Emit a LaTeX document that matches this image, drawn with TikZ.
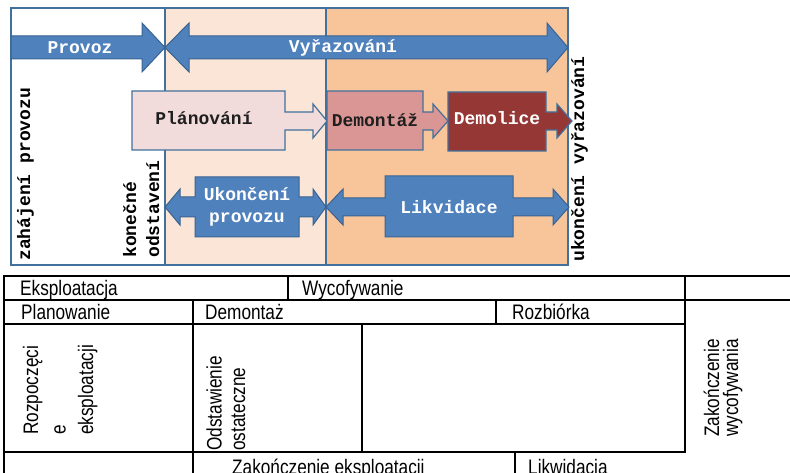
\documentclass[tikz,border=0pt]{standalone}
\usepackage{fontspec}
\setmainfont{Liberation Sans}
\newfontfamily\cour{Liberation Mono}
\newfontfamily\arialn[FakeStretch=0.82]{Liberation Sans}
\definecolor{framec}{HTML}{41719C}
\definecolor{peach}{HTML}{FBE5D6}
\definecolor{orng}{HTML}{F8C59B}
\definecolor{arrowblue}{HTML}{4F81BD}
\definecolor{arrowedge}{HTML}{3A6391}
\definecolor{planfill}{HTML}{F2DCDB}
\definecolor{demfill}{HTML}{D99694}
\definecolor{demolfill}{HTML}{953735}
\definecolor{darktext}{HTML}{1F1F1F}
\tikzset{
  region/.style={draw=framec, line width=1.5pt},
  bluearrow/.style={fill=arrowblue, draw=arrowedge, line width=1pt, line join=miter},
  boxarrow/.style={draw=framec, line width=1.2pt, line join=miter},
  lbl/.style={font=\cour\bfseries\fontsize{18}{21.5}\selectfont, inner sep=0pt, align=center},
  vlbl/.style={font=\cour\bfseries\fontsize{18}{23}\selectfont, inner sep=0pt, align=left, rotate=90, anchor=base west},
  tline/.style={draw=black, line width=1.6pt},
  tbl/.style={font=\arialn\fontsize{21}{24}\selectfont, inner sep=0pt, anchor=base west},
  vtbl/.style={font=\arialn\fontsize{21}{24}\selectfont, inner sep=0pt, align=left, rotate=90, anchor=base west}
}
\begin{document}
\begin{tikzpicture}[x=1pt, y=-1pt]
\useasboundingbox (0,0) rectangle (790,473);
\clip (0,0) rectangle (790,473);
% ---------- top diagram regions
\path[region, fill=white] (11,8) rectangle (165,265);
\path[region, fill=peach] (165,8) rectangle (326,265);
\path[region, fill=orng] (326,8) rectangle (568,265);
% ---------- Provoz / Vyrazovani arrows
\path[bluearrow] (11,36) -- (142,36) -- (142,23) -- (165,47.5) -- (142,72) -- (142,59) -- (11,59) -- cycle;
\path[bluearrow] (165,47.5) -- (189,23) -- (189,36) -- (547,36) -- (547,23) -- (568,47.5) -- (547,72) -- (547,59) -- (189,59) -- (189,72) -- cycle;
\node[lbl, text=white] (provoz) at (80,47.5) {Provoz};
\node[lbl, text=white] (vyraz) at (343,47.5) {Vyřazování};
% ---------- Planovani -> Demontaz -> Demolice
\path[boxarrow, fill=planfill] (132,91) -- (285,91) -- (285,112) -- (313,112) -- (313,104) -- (327,121) -- (313,138) -- (313,130) -- (285,130) -- (285,150) -- (132,150) -- cycle;
\path[boxarrow, fill=demfill] (327,91) -- (423,91) -- (423,112) -- (433,112) -- (433,104) -- (448,121) -- (433,138) -- (433,130) -- (423,130) -- (423,150) -- (327,150) -- cycle;
\path[boxarrow, fill=demolfill] (448,92) -- (546,92) -- (546,112) -- (557,112) -- (557,104) -- (572,121) -- (557,138) -- (557,130) -- (546,130) -- (546,151) -- (448,151) -- cycle;
\node[lbl, text=darktext] (plan) at (204,118) {Plánování};
\node[lbl, text=darktext] (demont) at (375,120) {Demontáž};
\node[lbl, text=white] (demol) at (497,118) {Demolice};
% ---------- Ukonceni provozu / Likvidace
\path[bluearrow] (165,207) -- (180,189) -- (180,197) -- (195,197) -- (195,177) -- (299,177) -- (299,197) -- (313,197) -- (313,189) -- (326,207) -- (313,225) -- (313,217) -- (299,217) -- (299,237) -- (195,237) -- (195,217) -- (180,217) -- (180,225) -- cycle;
\path[bluearrow] (326,207) -- (343,189) -- (343,198) -- (385,198) -- (385,176) -- (513,176) -- (513,198) -- (553,198) -- (553,189) -- (569,207) -- (553,225) -- (553,216) -- (513,216) -- (513,237) -- (385,237) -- (385,216) -- (343,216) -- (343,225) -- cycle;
\node[lbl, text=white] (ukon) at (247,207) {Ukončení\\provozu};
\node[lbl, text=white] (likv) at (449,207) {Likvidace};
% ---------- vertical labels (anchor = baseline of the last line)
\node[vlbl] (zahaj) at (30,261) {zahájení provozu};
\node[vlbl] (konec) at (159,258) {konečné\\odstavení};
\node[vlbl] (ukvyr) at (584,262) {ukončení vyřazování};
% ---------- table lines
\draw[tline] (4,276) -- (790,276);
\draw[tline] (4,300) -- (790,300);
\draw[tline] (4,324) -- (685,324);
\draw[tline] (4,452) -- (685,452);
\draw[tline] (4,275.2) -- (4,474);
\draw[tline] (288,276) -- (288,300);
\draw[tline] (193,300) -- (193,474);
\draw[tline] (496,300) -- (496,324);
\draw[tline] (362,324) -- (362,452);
\draw[tline] (685,275.2) -- (685,452.8);
\draw[tline] (515,452) -- (515,474);
% ---------- table texts
\node[tbl] (eksp) at (20,295) {Eksploatacja};
\node[tbl] (wycof) at (302,295) {Wycofywanie};
\node[tbl] (plano) at (21,319) {Planowanie};
\node[tbl] (demo) at (205,319) {Demontaż};
\node[tbl] (rozb) at (512,319) {Rozbiórka};
\node[vtbl, font=\arialn\fontsize{21}{27.5}\selectfont] (rozp) at (93,435) {Rozpoczęci\\e\\eksploatacji};
\node[vtbl, font=\arialn\fontsize{21}{23.5}\selectfont] (odst) at (245,451) {Odstawienie\\ostateczne};
\node[vtbl, font=\arialn\fontsize{21}{19}\selectfont] (zakw) at (738,437) {Zakończenie\\wycofywania};
\node[tbl] (zake) at (232,474) {Zakończenie eksploatacji};
\node[tbl] (likw) at (528,474) {Likwidacja};
\end{tikzpicture}
\end{document}
